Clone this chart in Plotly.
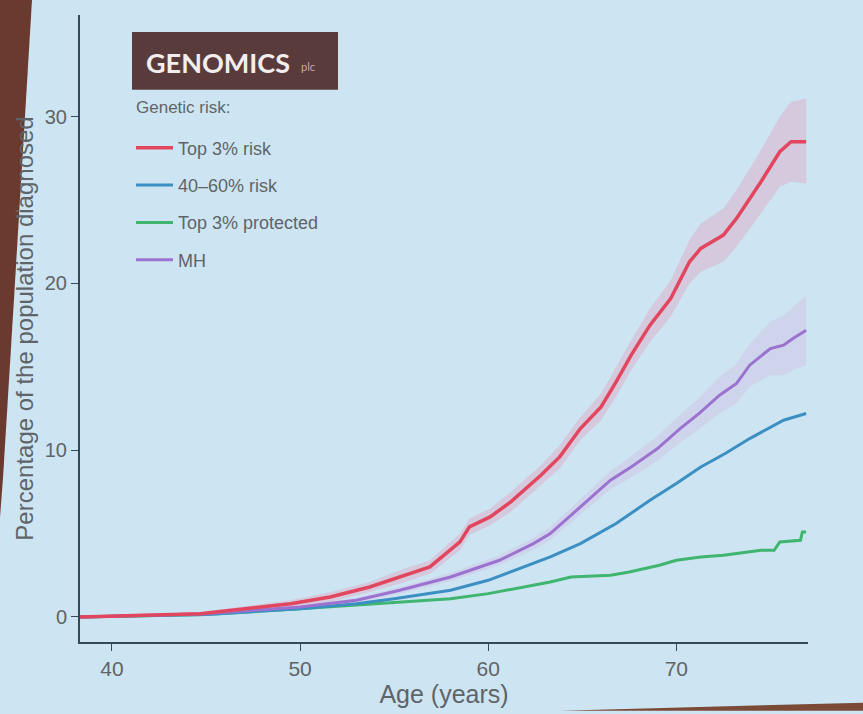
import plotly.graph_objects as go

# Cumulative incidence by age for each genetic-risk group (percent diagnosed)
top_risk_age = [38.3, 44.7, 49.5, 51.6, 53.7, 55.3, 56.9, 58.5, 59.0, 60.1, 61.2, 62.8, 63.8,
                64.9, 66.0, 66.8, 67.6, 68.6, 69.7, 70.7, 71.3, 72.5, 73.2, 74.5, 75.5, 76.1, 76.9]
top_risk_val = [0, 0.2, 0.8, 1.2, 1.8, 2.4, 3.0, 4.5, 5.4, 6.0, 6.9, 8.5, 9.6,
                11.3, 12.6, 14.1, 15.7, 17.5, 19.1, 21.3, 22.1, 22.9, 23.9, 26.1, 27.9, 28.5, 28.5]
top_risk_hi = [0, 0.3, 1.0, 1.5, 2.1, 2.8, 3.4, 5.0, 5.9, 6.5, 7.5, 9.1, 10.3,
               12.0, 13.4, 15.0, 16.6, 18.5, 20.2, 22.6, 23.6, 24.5, 25.6, 28.0, 30.0, 30.9, 31.1]
top_risk_lo = [0, 0.1, 0.6, 0.9, 1.5, 2.0, 2.6, 4.0, 4.9, 5.5, 6.3, 7.9, 8.9,
               10.6, 11.8, 13.2, 14.8, 16.5, 18.0, 20.0, 20.7, 21.3, 22.2, 24.2, 25.8, 26.1, 26.0]

mh_age = [38.3, 45.0, 50.0, 53.0, 55.3, 58.0, 60.6, 62.4, 63.3, 64.9, 66.5, 67.6, 69.0,
          70.2, 71.2, 72.3, 73.2, 73.9, 75.0, 75.7, 76.2, 76.9]
mh_val = [0, 0.2, 0.6, 1.0, 1.6, 2.4, 3.4, 4.4, 5.0, 6.6, 8.2, 9.0, 10.1,
          11.3, 12.2, 13.3, 14.0, 15.1, 16.1, 16.3, 16.7, 17.2]
mh_hi = [0, 0.25, 0.7, 1.15, 1.8, 2.65, 3.7, 4.75, 5.4, 7.05, 8.75, 9.65, 10.85,
         12.15, 13.15, 14.4, 15.2, 16.4, 17.7, 18.1, 18.6, 19.3]
mh_lo = [0, 0.15, 0.5, 0.85, 1.4, 2.15, 3.1, 4.05, 4.6, 6.15, 7.65, 8.35, 9.35,
         10.45, 11.25, 12.2, 12.8, 13.8, 14.5, 14.5, 14.8, 15.1]

mid_age = [38.3, 45.0, 50.0, 53.0, 55.0, 58.0, 60.0, 63.3, 64.9, 66.8, 68.6, 70.0,
           71.3, 72.6, 73.9, 75.7, 76.9]
mid_val = [0, 0.15, 0.5, 0.8, 1.1, 1.6, 2.2, 3.6, 4.4, 5.6, 7.0, 8.0,
           9.0, 9.8, 10.7, 11.8, 12.2]

prot_age = [38.3, 45.0, 50.0, 52.7, 55.0, 58.0, 60.0, 62.0, 63.3, 64.4, 66.5, 67.5,
            69.1, 70.0, 71.3, 72.5, 74.5, 75.2, 75.5, 76.6, 76.7, 76.9]
prot_val = [0, 0.15, 0.5, 0.7, 0.85, 1.1, 1.4, 1.8, 2.1, 2.4, 2.5, 2.7,
            3.1, 3.4, 3.6, 3.7, 4.0, 4.0, 4.5, 4.6, 5.1, 5.1]

x_ticks = [40, 50, 60, 70]
y_ticks = [0, 10, 20, 30]

RED = "#e2465e"
BLUE = "#3b8fc2"
GREEN = "#3fb56f"
PURPLE = "#9b72cf"
BG = "#cde5f2"
AXIS = "#34495a"
TEXT = "#5f6468"

# plot-area geometry in pixels (used to place decorations in paper coordinates)
W, H = 863, 714
ML, MR, MT, MB = 80, 55, 15, 69
PW, PH = W - ML - MR, H - MT - MB


def px(x):
    return (x - ML) / PW


def py(y):
    return (H - MB - y) / PH


fig = go.Figure()


def band(ages, lo, hi, color):
    fig.add_trace(go.Scatter(
        x=ages + ages[::-1], y=hi + lo[::-1], fill="toself", fillcolor=color,
        line=dict(width=0), mode="lines", showlegend=False, hoverinfo="skip"))


band(top_risk_age, top_risk_lo, top_risk_hi, "rgba(218,182,208,0.6)")
band(mh_age, mh_lo, mh_hi, "rgba(210,198,234,0.55)")


def curve(ages, vals, name, color, width, rank):
    fig.add_trace(go.Scatter(x=ages, y=vals, mode="lines", name=name,
                             legendgroup=name, legendrank=rank,
                             line=dict(color=color, width=width)))


curve(prot_age, prot_val, "Top 3% protected", GREEN, 3, 3)
curve(mid_age, mid_val, "40–60% risk", BLUE, 3, 2)
curve(mh_age, mh_val, "MH", PURPLE, 3, 4)
curve(top_risk_age, top_risk_val, "Top 3% risk", RED, 3.5, 1)

shapes = [
    # dark slide edge on the left
    dict(type="path", xref="paper", yref="paper",
         path=f"M {px(0)},{py(0)} L {px(32)},{py(0)} L {px(14)},{py(300)} "
              f"L {px(3)},{py(480)} L {px(0)},{py(520)} Z",
         fillcolor="#6b3a2f", line=dict(width=0), layer="below"),
    # floor strip along the bottom
    dict(type="path", xref="paper", yref="paper",
         path=f"M {px(560)},{py(714)} L {px(863)},{py(706)} L {px(863)},{py(714)} Z",
         fillcolor="#7a4a36", line=dict(width=0), layer="below"),
    # logo block
    dict(type="rect", xref="paper", yref="paper",
         x0=px(132), x1=px(338), y0=py(90), y1=py(32),
         fillcolor="#5a3b3c", line=dict(width=0), layer="above"),
]

annotations = [
    dict(text="<b>GENOMICS</b>", xref="paper", yref="paper", x=px(144), y=py(63),
         xanchor="left", yanchor="middle", showarrow=False,
         font=dict(family="Lato, Open Sans, sans-serif", size=27, color="#f2eeee")),
    dict(text="plc", xref="paper", yref="paper", x=px(299), y=py(67),
         xanchor="left", yanchor="middle", showarrow=False,
         font=dict(family="Lato, sans-serif", size=11, color="#c9a9a9")),
    dict(text="Genetic risk:", xref="paper", yref="paper", x=px(134), y=py(108),
         xanchor="left", yanchor="middle", showarrow=False,
         font=dict(size=17, color=TEXT)),
]

fig.update_layout(
    width=W, height=H,
    margin=dict(l=ML, r=MR, t=MT, b=MB),
    paper_bgcolor=BG, plot_bgcolor=BG,
    font=dict(family="Liberation Sans, Arial, sans-serif", color=TEXT),
    shapes=shapes, annotations=annotations,
    legend=dict(
        traceorder="grouped", tracegroupgap=11,
        x=px(131), y=py(130), xanchor="left", yanchor="top",
        bgcolor="rgba(0,0,0,0)", font=dict(size=18, color=TEXT),
        itemwidth=37,
    ),
    xaxis=dict(
        range=[38.3, 77.0], tickvals=x_ticks, ticks="outside", ticklen=7,
        tickcolor=AXIS, showline=True, linecolor=AXIS, linewidth=2,
        showgrid=False, zeroline=False, tickfont=dict(size=21, color=TEXT),
        title=dict(text="Age (years)", font=dict(size=25, color=TEXT), standoff=4),
    ),
    yaxis=dict(
        range=[-1.5, 36.1], tickvals=y_ticks, ticks="outside", ticklen=7,
        tickcolor=AXIS, showline=True, linecolor=AXIS, linewidth=2,
        showgrid=False, zeroline=False, tickfont=dict(size=20, color=TEXT),
        title=dict(text="Percentage of the population diagnosed",
                   font=dict(size=24, color=TEXT), standoff=4),
    ),
)

fig.write_html("out.html")
